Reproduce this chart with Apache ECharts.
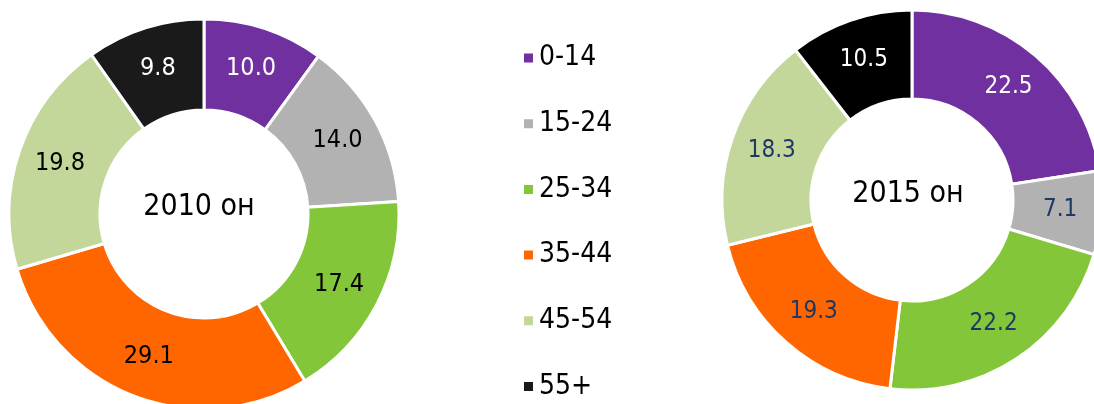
<!DOCTYPE html>
<html><head><meta charset="utf-8">
<script src="https://cdn.jsdelivr.net/npm/echarts@6/dist/echarts.min.js"></script>
<style>html,body{margin:0;padding:0;background:#fff}#c{width:1094px;height:404px}</style>
</head><body><div id="c"></div>
<script>
const categories = ['0-14', '15-24', '25-34', '35-44', '45-54', '55+'];
const values2010 = [10.0, 14.0, 17.4, 29.1, 19.8, 9.8];
const values2015 = [22.5, 7.1, 22.2, 19.3, 18.3, 10.5];
const titles = ['2010 он', '2015 он'];
const colors = ['#7030A0', '#B2B2B2', '#84C63A', '#FF6600', '#C4D79B', '#1A1A1A'];
const FONT = "'DejaVu Sans Condensed', 'DejaVu Sans', sans-serif";

const labelColors2010 = ['#ffffff', '#000000', '#000000', '#000000', '#000000', '#ffffff'];
const labelColors2015 = ['#ffffff', '#1F3763', '#1F3763', '#1F3763', '#1F3763', '#ffffff'];
const sliceColors2015 = ['#7030A0', '#B2B2B2', '#84C63A', '#FF6600', '#C4D79B', '#000000'];

function mk(vals, labelCols, sliceCols) {
  return categories.map((n, i) => ({
    name: n, value: vals[i],
    itemStyle: { color: sliceCols[i] },
    label: { color: labelCols[i] }
  }));
}

const chart = echarts.init(document.getElementById('c'), null, { renderer: 'canvas' });
chart.setOption({
  animation: false,
  color: colors,
  title: [
    { text: titles[0], left: 199, top: 207, textAlign: 'center', textVerticalAlign: 'middle', padding: 0,
      textStyle: { fontFamily: FONT, fontSize: 30, fontWeight: 'normal', color: '#000' } },
    { text: titles[1], left: 908, top: 194, textAlign: 'center', textVerticalAlign: 'middle', padding: 0,
      textStyle: { fontFamily: FONT, fontSize: 30, fontWeight: 'normal', color: '#000' } }
  ],
  legend: {
    orient: 'vertical', left: 517, top: 38, height: 366,
    data: categories,
    icon: 'rect', itemWidth: 11, itemHeight: 11, itemGap: 35.7,
    textStyle: { fontFamily: FONT, fontSize: 28, color: '#000', lineHeight: 30, padding: [0, 0, 0, 0] }
  },
  series: [
    {
      type: 'pie', center: [204, 214], radius: [104, 195], startAngle: 90, clockwise: true,
      data: mk(values2010, labelColors2010, colors),
      itemStyle: { borderColor: '#fff', borderWidth: 3 },
      label: { show: true, position: 'inside', formatter: p => p.value.toFixed(1),
        fontFamily: FONT, fontSize: 25 },
      labelLine: { show: false }, emphasis: { disabled: true }
    },
    {
      type: 'pie', center: [912, 200], radius: [101, 190], startAngle: 90, clockwise: true,
      data: mk(values2015, labelColors2015, sliceColors2015),
      itemStyle: { borderColor: '#fff', borderWidth: 3 },
      label: { show: true, position: 'inside', formatter: p => p.value.toFixed(1),
        fontFamily: FONT, fontSize: 24 },
      labelLine: { show: false }, emphasis: { disabled: true }
    }
  ]
});
</script></body></html>
